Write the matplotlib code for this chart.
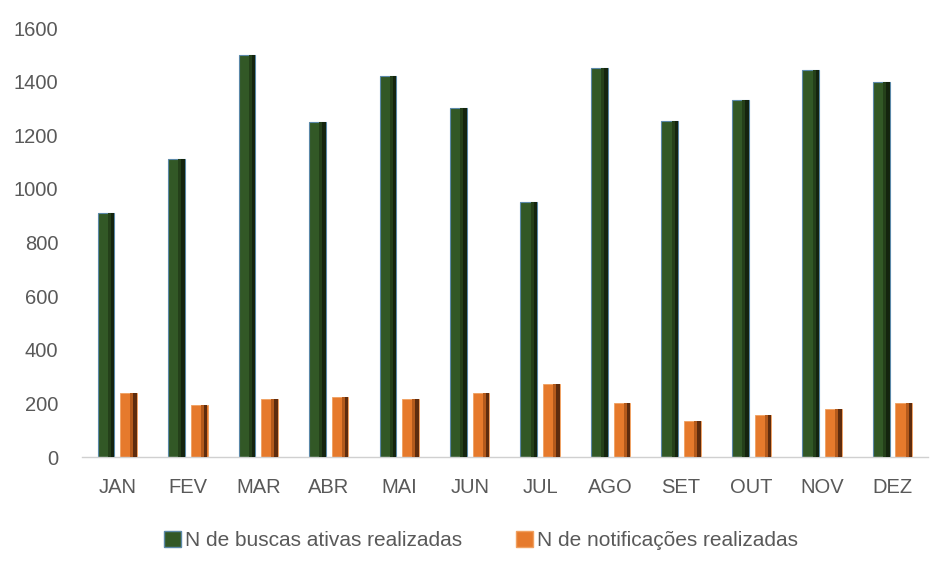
import matplotlib
matplotlib.use("Agg")
import matplotlib.pyplot as plt
import numpy as np
from matplotlib.patches import Patch

months = ["JAN", "FEV", "MAR", "ABR", "MAI", "JUN", "JUL", "AGO", "SET", "OUT", "NOV", "DEZ"]
buscas = [910, 1110, 1500, 1250, 1420, 1300, 950, 1450, 1255, 1330, 1445, 1400]
notificacoes = [240, 195, 218, 225, 218, 240, 272, 203, 133, 158, 178, 203]

label_buscas = "N de buscas ativas realizadas"
label_notif = "N de notificações realizadas"

plt.rcParams['font.family'] = ['Liberation Sans', 'DejaVu Sans']
text_color = "#595959"

fig = plt.figure(figsize=(9.43, 5.68), dpi=100)
ax = fig.add_axes([0.087, 0.1954, 0.897, 0.7553])

x = np.arange(len(months))
w = 0.24
off = 0.16

green = "#325826"
green_mid = "#24401a"
green_dark = "#14240e"
green_edge = "#5b88a8"
orange = "#e67a2c"
orange_mid = "#b45a1c"
orange_dark = "#5e2c0e"
orange_edge = "#f0a060"

ax.bar(x - off, buscas, width=w, color=green, edgecolor=green_edge, linewidth=0.8, zorder=2)
ax.bar(x - off + w * 0.2, buscas, width=w * 0.2, color=green_mid, linewidth=0, zorder=3)
ax.bar(x - off + w * 0.38, buscas, width=w * 0.2, color=green_dark, linewidth=0, zorder=3)
ax.bar(x + off, notificacoes, width=w, color=orange, edgecolor=orange_edge, linewidth=0.6, zorder=2)
ax.bar(x + off + w * 0.2, notificacoes, width=w * 0.2, color=orange_mid, linewidth=0, zorder=3)
ax.bar(x + off + w * 0.38, notificacoes, width=w * 0.2, color=orange_dark, linewidth=0, zorder=3)

ax.set_xlim(-0.5, len(months) - 0.5)
ax.set_ylim(0, 1600)
ax.set_yticks(np.arange(0, 1601, 200))
ax.set_xticks(x)
ax.set_xticklabels(months)

for s in ["top", "right", "left"]:
    ax.spines[s].set_visible(False)
ax.spines["bottom"].set_color("#d0d0d0")
ax.spines["bottom"].set_linewidth(1.0)

ax.tick_params(axis="y", length=0, pad=17, labelsize=14.5, labelcolor=text_color)
ax.tick_params(axis="x", length=0, pad=15, labelsize=14.5, labelcolor=text_color)

handles = [Patch(facecolor=green, edgecolor=green_edge, label=label_buscas),
           Patch(facecolor=orange, edgecolor=orange_edge, label=label_notif)]
leg = fig.legend(handles=handles, loc="center", bbox_to_anchor=(0.51, 0.049), ncol=2,
                 frameon=False, fontsize=15, handlelength=0.8, handleheight=0.8,
                 handletextpad=0.2, columnspacing=2.6)
for t in leg.get_texts():
    t.set_color(text_color)

fig.savefig("out.png", dpi=100)
